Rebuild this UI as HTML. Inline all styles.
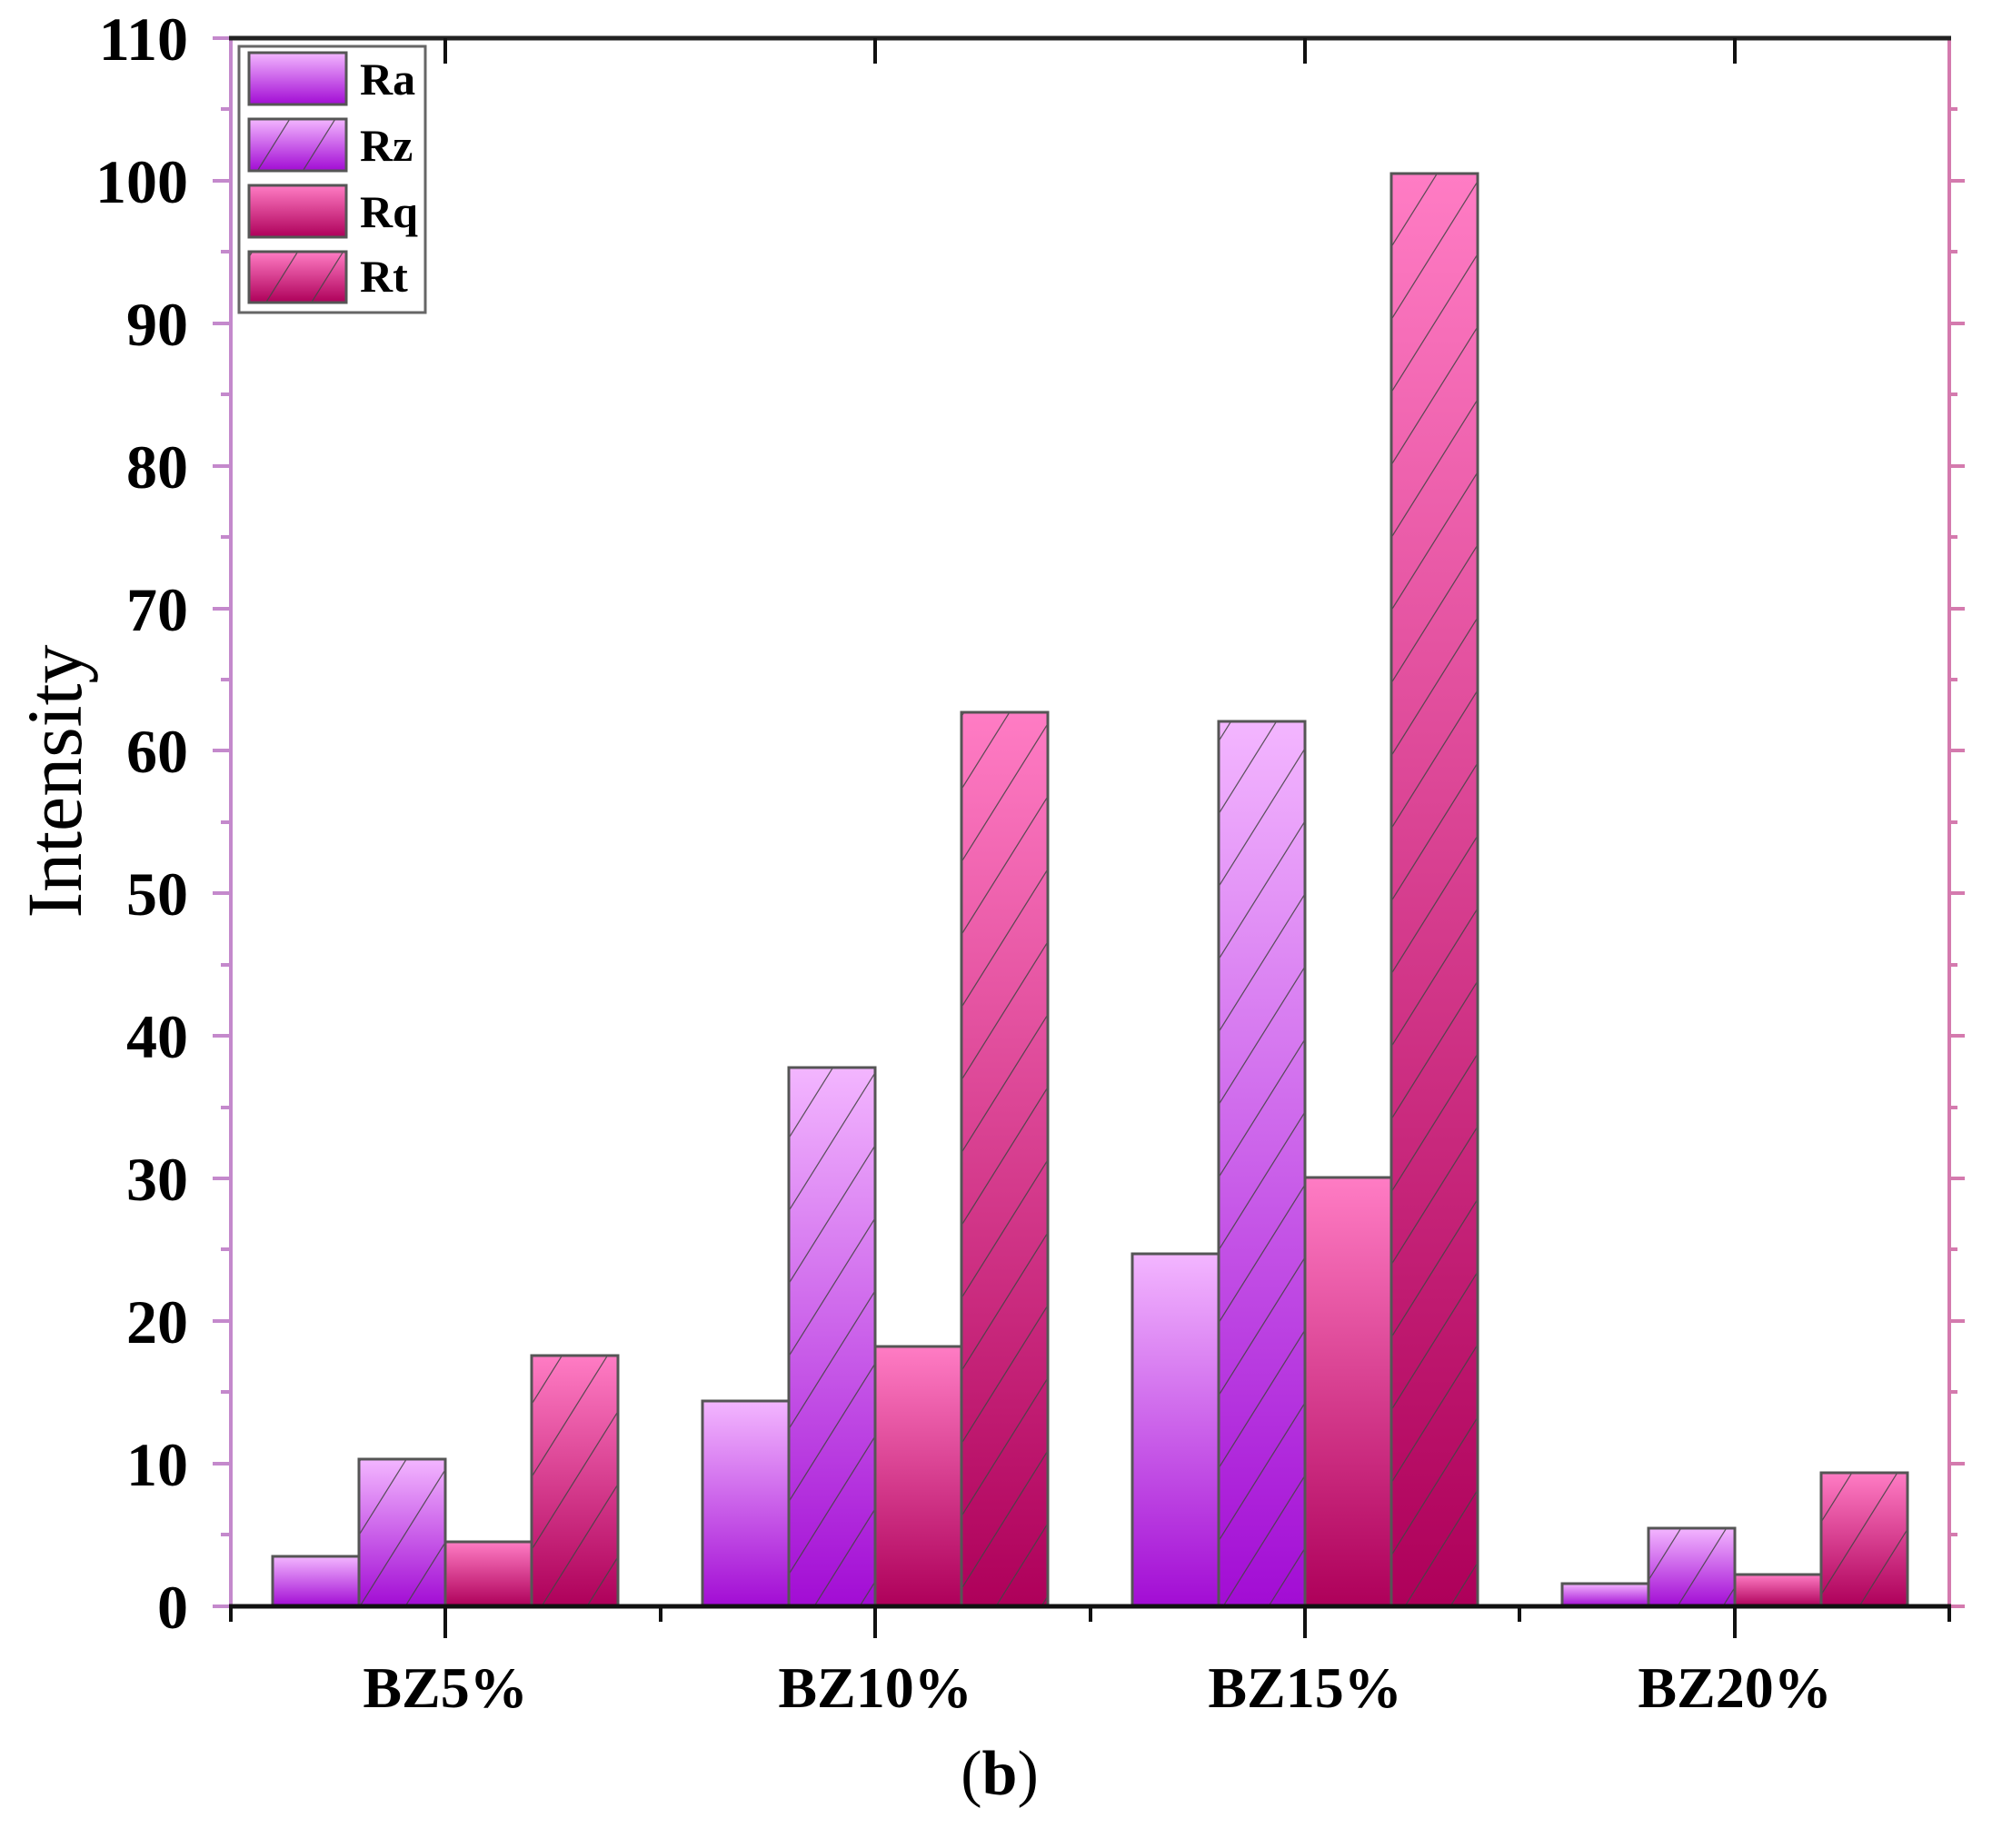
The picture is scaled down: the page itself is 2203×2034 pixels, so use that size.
<!DOCTYPE html>
<html><head><meta charset="utf-8"><style>html,body{margin:0;padding:0;background:#fff}svg{display:block}</style></head>
<body>
<svg width="2203" height="2034" viewBox="0 0 2203 2034" xmlns="http://www.w3.org/2000/svg" font-family="Liberation Serif, serif">
<defs>
<linearGradient id="gp" x1="0" y1="0" x2="0" y2="1"><stop offset="0" stop-color="#f3b6ff"/><stop offset="1" stop-color="#a20cd4"/></linearGradient>
<linearGradient id="gr" x1="0" y1="0" x2="0" y2="1"><stop offset="0" stop-color="#ff7cc4"/><stop offset="1" stop-color="#ae005a"/></linearGradient>
<pattern id="h" patternUnits="userSpaceOnUse" width="50" height="50" patternTransform="skewX(-32)">
<line x1="0" y1="0" x2="0" y2="50" stroke="#444" stroke-width="3" opacity="0.85"/></pattern>
</defs>
<g stroke="#555" stroke-width="3">
<rect x="300" y="1713" width="95" height="55" fill="url(#gp)"/>
<rect x="395" y="1606" width="95" height="162" fill="url(#gp)"/><rect x="395" y="1606" width="95" height="162" fill="url(#h)"/>
<rect x="490" y="1697" width="95" height="71" fill="url(#gr)"/>
<rect x="585" y="1492" width="95" height="276" fill="url(#gr)"/><rect x="585" y="1492" width="95" height="276" fill="url(#h)"/>

<rect x="773" y="1542" width="95" height="226" fill="url(#gp)"/>
<rect x="868" y="1175" width="95" height="593" fill="url(#gp)"/><rect x="868" y="1175" width="95" height="593" fill="url(#h)"/>
<rect x="963" y="1482" width="95" height="286" fill="url(#gr)"/>
<rect x="1058" y="784" width="95" height="984" fill="url(#gr)"/><rect x="1058" y="784" width="95" height="984" fill="url(#h)"/>

<rect x="1246" y="1380" width="95" height="388" fill="url(#gp)"/>
<rect x="1341" y="794" width="95" height="974" fill="url(#gp)"/><rect x="1341" y="794" width="95" height="974" fill="url(#h)"/>
<rect x="1436" y="1296" width="95" height="472" fill="url(#gr)"/>
<rect x="1531" y="191" width="95" height="1577" fill="url(#gr)"/><rect x="1531" y="191" width="95" height="1577" fill="url(#h)"/>

<rect x="1719" y="1743" width="95" height="25" fill="url(#gp)"/>
<rect x="1814" y="1682" width="95" height="86" fill="url(#gp)"/><rect x="1814" y="1682" width="95" height="86" fill="url(#h)"/>
<rect x="1909" y="1733" width="95" height="35" fill="url(#gr)"/>
<rect x="2004" y="1621" width="95" height="147" fill="url(#gr)"/><rect x="2004" y="1621" width="95" height="147" fill="url(#h)"/>
</g>
<line x1="254" y1="42" x2="254" y2="1768" stroke="#c489cc" stroke-width="4"/>
<line x1="2145" y1="42" x2="2145" y2="1768" stroke="#d47aae" stroke-width="4"/>
<g stroke="#c489cc" stroke-width="4">
<line x1="234" y1="42" x2="254" y2="42"/><line x1="234" y1="199" x2="254" y2="199"/><line x1="234" y1="356" x2="254" y2="356"/><line x1="234" y1="513" x2="254" y2="513"/><line x1="234" y1="670" x2="254" y2="670"/><line x1="234" y1="826" x2="254" y2="826"/><line x1="234" y1="983" x2="254" y2="983"/><line x1="234" y1="1140" x2="254" y2="1140"/><line x1="234" y1="1297" x2="254" y2="1297"/><line x1="234" y1="1454" x2="254" y2="1454"/><line x1="234" y1="1611" x2="254" y2="1611"/><line x1="234" y1="1768" x2="254" y2="1768"/>
<line x1="243" y1="120" x2="254" y2="120"/><line x1="243" y1="277" x2="254" y2="277"/><line x1="243" y1="434" x2="254" y2="434"/><line x1="243" y1="591" x2="254" y2="591"/><line x1="243" y1="748" x2="254" y2="748"/><line x1="243" y1="905" x2="254" y2="905"/><line x1="243" y1="1062" x2="254" y2="1062"/><line x1="243" y1="1219" x2="254" y2="1219"/><line x1="243" y1="1375" x2="254" y2="1375"/><line x1="243" y1="1532" x2="254" y2="1532"/><line x1="243" y1="1689" x2="254" y2="1689"/>
</g>
<g stroke="#d47aae" stroke-width="4">
<line x1="2145" y1="199" x2="2162" y2="199"/><line x1="2145" y1="356" x2="2162" y2="356"/><line x1="2145" y1="513" x2="2162" y2="513"/><line x1="2145" y1="670" x2="2162" y2="670"/><line x1="2145" y1="826" x2="2162" y2="826"/><line x1="2145" y1="983" x2="2162" y2="983"/><line x1="2145" y1="1140" x2="2162" y2="1140"/><line x1="2145" y1="1297" x2="2162" y2="1297"/><line x1="2145" y1="1454" x2="2162" y2="1454"/><line x1="2145" y1="1611" x2="2162" y2="1611"/><line x1="2145" y1="1768" x2="2162" y2="1768"/>
<line x1="2145" y1="120" x2="2154" y2="120"/><line x1="2145" y1="277" x2="2154" y2="277"/><line x1="2145" y1="434" x2="2154" y2="434"/><line x1="2145" y1="591" x2="2154" y2="591"/><line x1="2145" y1="748" x2="2154" y2="748"/><line x1="2145" y1="905" x2="2154" y2="905"/><line x1="2145" y1="1062" x2="2154" y2="1062"/><line x1="2145" y1="1219" x2="2154" y2="1219"/><line x1="2145" y1="1375" x2="2154" y2="1375"/><line x1="2145" y1="1532" x2="2154" y2="1532"/><line x1="2145" y1="1689" x2="2154" y2="1689"/>
</g>
<line x1="252" y1="42" x2="2147" y2="42" stroke="#222" stroke-width="5"/>
<line x1="252" y1="1768" x2="2147" y2="1768" stroke="#111" stroke-width="5"/>
<g stroke="#111" stroke-width="4">
<line x1="490" y1="1768" x2="490" y2="1803"/><line x1="963" y1="1768" x2="963" y2="1803"/><line x1="1436" y1="1768" x2="1436" y2="1803"/><line x1="1909" y1="1768" x2="1909" y2="1803"/>
<line x1="254" y1="1768" x2="254" y2="1785"/><line x1="727" y1="1768" x2="727" y2="1785"/><line x1="1200" y1="1768" x2="1200" y2="1785"/><line x1="1672" y1="1768" x2="1672" y2="1785"/><line x1="2145" y1="1768" x2="2145" y2="1785"/>
<line x1="490" y1="42" x2="490" y2="70"/><line x1="963" y1="42" x2="963" y2="70"/><line x1="1436" y1="42" x2="1436" y2="70"/><line x1="1909" y1="42" x2="1909" y2="70"/>
</g>
<g font-weight="bold" font-size="68" text-anchor="end" fill="#000">
<text x="207" y="66">110</text><text x="207" y="223">100</text><text x="207" y="380">90</text><text x="207" y="537">80</text><text x="207" y="694">70</text><text x="207" y="850">60</text><text x="207" y="1007">50</text><text x="207" y="1164">40</text><text x="207" y="1321">30</text><text x="207" y="1478">20</text><text x="207" y="1635">10</text><text x="207" y="1792">0</text>
</g>
<text transform="translate(89,860) rotate(-90)" font-size="86" text-anchor="middle" fill="#000">Intensity</text>
<g font-weight="bold" font-size="64" text-anchor="middle" fill="#000">
<text x="490" y="1879">BZ5%</text><text x="963" y="1879">BZ10%</text><text x="1436" y="1879">BZ15%</text><text x="1909" y="1879">BZ20%</text>
</g>
<text x="1100" y="1975" font-size="70" text-anchor="middle" fill="#000">(<tspan font-weight="bold">b</tspan>)</text>
<rect x="263" y="51" width="205" height="293" fill="#fff" stroke="#666" stroke-width="3"/>
<g stroke="#555" stroke-width="3">
<rect x="274" y="58" width="107" height="57" fill="url(#gp)"/>
<rect x="274" y="131" width="107" height="57" fill="url(#gp)"/><rect x="274" y="131" width="107" height="57" fill="url(#h)"/>
<rect x="274" y="204" width="107" height="57" fill="url(#gr)"/>
<rect x="274" y="277" width="107" height="56" fill="url(#gr)"/><rect x="274" y="277" width="107" height="56" fill="url(#h)"/>
</g>
<g font-weight="bold" font-size="50" fill="#000">
<text x="396" y="104">Ra</text><text x="396" y="177">Rz</text><text x="396" y="250">Rq</text><text x="396" y="321">Rt</text>
</g>
</svg>
</body></html>
